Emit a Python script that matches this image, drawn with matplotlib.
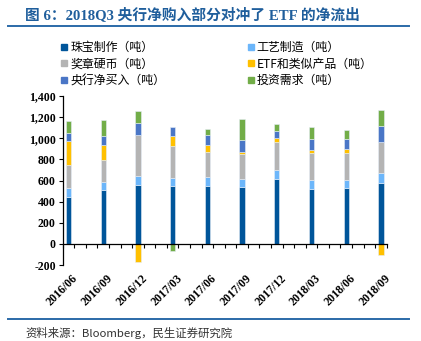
import numpy as np
import matplotlib.pyplot as plt
from matplotlib.lines import Line2D
from matplotlib.transforms import blended_transform_factory

# quarterly gold demand components (tonnes)
quarters = ['2016/06', '2016/09', '2016/12', '2017/03', '2017/06',
            '2017/09', '2017/12', '2018/03', '2018/06', '2018/09']
jewellery = [447, 513, 560, 544, 544, 535, 617, 522, 532, 579]
technology = [85, 75, 85, 79, 85, 82, 85, 82, 75, 88]
bar_coin = [214, 208, 384, 308, 242, 236, 264, 261, 252, 299]
etf = [229, 138, -173, 95, 63, 15, 34, 28, 38, -101]
central_banks = [76, 88, 113, 84, 95, 117, 70, 101, 94, 151]
investment = [116, 151, 116, -66, 63, 198, 69, 113, 88, 148]

series = [
    ('珠宝制作（吨）', jewellery, '#00559A'),
    ('工艺制造（吨）', technology, '#6CB6FA'),
    ('奖章硬币（吨）', bar_coin, '#B4B4B4'),
    ('ETF和类似产品（吨）', etf, '#FFC000'),
    ('央行净买入（吨）', central_banks, '#4A76C6'),
    ('投资需求（吨）', investment, '#72AD48'),
]

cjk = ['Noto Sans CJK SC', 'DejaVu Sans']
serif_bold = ['Liberation Serif', 'Noto Sans CJK SC']
plt.rcParams['font.family'] = cjk

fig = plt.figure(figsize=(4.21, 3.41), dpi=100)
ax = fig.add_axes([62.7 / 421, 1 - 265 / 341, 324 / 421, 169 / 341])

# months on the axis, one bar every quarter
x = np.arange(len(quarters)) * 3
pos_bottom = np.zeros(len(quarters))
neg_bottom = np.zeros(len(quarters))
handles = []
for name, vals, color in series:
    vals = np.array(vals, dtype=float)
    bottom = np.where(vals >= 0, pos_bottom, neg_bottom)
    ax.bar(x, vals, width=0.45, bottom=bottom, color=color,
           edgecolor='#e6eef7', linewidth=0.4, zorder=2)
    pos_bottom += np.where(vals >= 0, vals, 0)
    neg_bottom += np.where(vals < 0, vals, 0)
    handles.append(Line2D([], [], marker='s', linestyle='none',
                          markersize=4.5, color=color, label=name))

ax.set_xlim(-0.5, x[-1] + 0.5)
ax.set_ylim(-200, 1400)
ax.set_yticks(np.arange(-200, 1401, 200))
ax.set_yticklabels([f'{v:,}' for v in range(-200, 1401, 200)],
                   family=serif_bold, fontweight='bold', fontsize=8.5)
ax.tick_params(axis='y', direction='out', length=3, width=0.8, pad=2)

ax.spines['top'].set_visible(False)
ax.spines['right'].set_visible(False)
ax.spines['bottom'].set_position(('data', 0))
ax.spines['left'].set_linewidth(0.9)
ax.spines['bottom'].set_linewidth(0.9)
ax.set_xticks(np.arange(-0.5, x[-1] + 1, 1))
ax.tick_params(axis='x', direction='out', length=3, width=0.8,
               labelbottom=False)

trans = blended_transform_factory(ax.transData, ax.transAxes)
for xi, q in zip(x, quarters):
    ax.text(xi + 0.3, -0.045, q, transform=trans, rotation=45,
            ha='right', va='top', rotation_mode='anchor',
            family=serif_bold, fontweight='bold', fontsize=8.5)

order = [0, 2, 4, 1, 3, 5]
fig.legend([handles[i] for i in order],
           [series[i][0] for i in order],
           ncol=2, loc='upper left', bbox_to_anchor=(60 / 421, 1 - 41 / 341),
           frameon=False, fontsize=8.6, handletextpad=0.15,
           handlelength=0.7, columnspacing=6.8, labelspacing=0.3,
           borderaxespad=0, borderpad=0)

fig.text(25 / 421, 1 - 15 / 341, '图 6：2018Q3 央行净购入部分对冲了 ETF 的净流出',
         family=serif_bold, fontweight='bold', fontsize=10.6,
         color='#1F5E9C', va='center', ha='left')
fig.add_artist(Line2D([8 / 421, 409 / 421], [1 - 26 / 341, 1 - 26 / 341],
                      color='#2B6AA8', linewidth=1.4))
fig.add_artist(Line2D([8 / 421, 409 / 421], [1 - 319 / 341, 1 - 319 / 341],
                      color='#2B6AA8', linewidth=1.4))
fig.text(25 / 421, 1 - 339 / 341, '资料来源：Bloomberg，民生证券研究院',
         fontsize=8.2, color='#333333', va='bottom', ha='left')

fig.savefig('out.png', dpi=100)
